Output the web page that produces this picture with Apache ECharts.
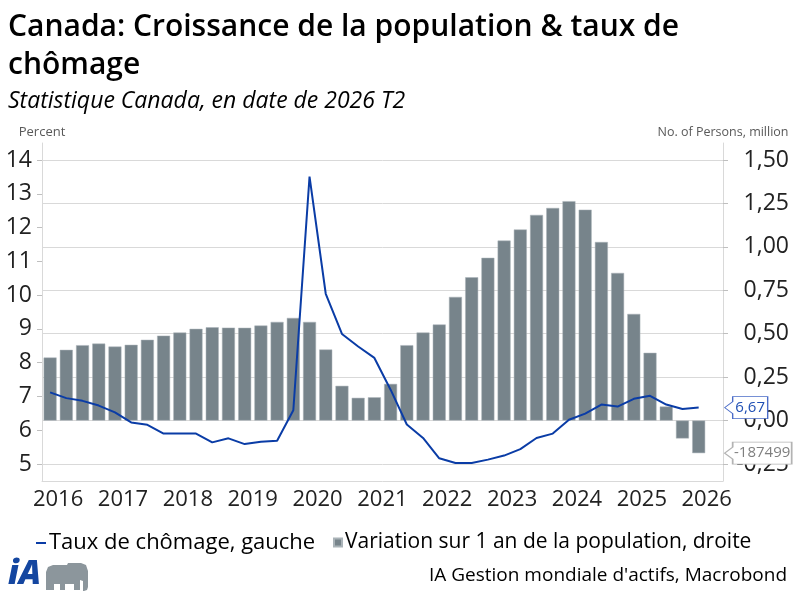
<!DOCTYPE html>
<html>
<head>
<meta charset="utf-8">
<script src="https://cdn.jsdelivr.net/npm/echarts@6.0.0/dist/echarts.min.js"></script>
<style>
  html, body { margin: 0; padding: 0; background: #fff; }
  #chart { width: 800px; height: 600px; }
</style>
</head>
<body>
<div id="chart"></div>
<script>
// trimestres, 2016 T2 -> 2026 T3 (le dernier est vide)
var quarters = [
  '2016 T2','2016 T3','2016 T4',
  '2017 T1','2017 T2','2017 T3','2017 T4',
  '2018 T1','2018 T2','2018 T3','2018 T4',
  '2019 T1','2019 T2','2019 T3','2019 T4',
  '2020 T1','2020 T2','2020 T3','2020 T4',
  '2021 T1','2021 T2','2021 T3','2021 T4',
  '2022 T1','2022 T2','2022 T3','2022 T4',
  '2023 T1','2023 T2','2023 T3','2023 T4',
  '2024 T1','2024 T2','2024 T3','2024 T4',
  '2025 T1','2025 T2','2025 T3','2025 T4',
  '2026 T1','2026 T2','2026 T3'
];
// variation sur 1 an de la population (millions), axe droit
var popChange = [
  0.363, 0.407, 0.434, 0.443, 0.426, 0.436, 0.465, 0.489, 0.507, 0.528,
  0.537, 0.535, 0.534, 0.547, 0.568, 0.591, 0.568, 0.409, 0.200, 0.131,
  0.134, 0.211, 0.434, 0.507, 0.553, 0.712, 0.825, 0.937, 1.036, 1.100,
  1.184, 1.224, 1.263, 1.214, 1.028, 0.850, 0.614, 0.390, 0.081, -0.103,
  -0.187499
];
// taux de chômage (%), axe gauche
var unemployment = [
  7.12, 6.95, 6.87, 6.73, 6.53, 6.23, 6.16, 5.90, 5.90, 5.90,
  5.64, 5.76, 5.59, 5.66, 5.69, 6.59, 13.51, 10.04, 8.85, 8.48,
  8.14, 7.20, 6.17, 5.77, 5.17, 5.03, 5.03, 5.13, 5.25, 5.44,
  5.77, 5.90, 6.31, 6.49, 6.76, 6.70, 6.93, 7.02, 6.76, 6.63,
  6.67
];

var FONT = '"Open Sans", "Noto Sans", sans-serif';
var lastIdx = popChange.length - 1;

function comma(v, d) {
  return v.toFixed(d).replace('.', ',');
}

var myChart = echarts.init(document.getElementById('chart'));
myChart.setOption({
  animation: false,
  textStyle: { fontFamily: FONT },
  title: [
    {
      text: 'Canada: Croissance de la population & taux de\nchômage',
      left: 8, top: 8, padding: 0,
      textStyle: { fontSize: 30, fontWeight: 600, lineHeight: 38, color: '#000', fontFamily: FONT }
    },
    {
      text: 'Statistique Canada, en date de 2026 T2',
      left: 8, top: 88, padding: 0,
      textStyle: { fontSize: 23, fontWeight: 'normal', fontStyle: 'italic', lineHeight: 26, color: '#000', fontFamily: FONT }
    }
  ],
  legend: [
    {
      data: ['Taux de chômage, gauche'],
      left: 36, top: 532, padding: 0,
      icon: 'rect', itemWidth: 10, itemHeight: 2,
      textStyle: { fontSize: 22, color: '#000', padding: [0, 0, 0, -2] }
    },
    {
      data: ['Variation sur 1 an de la population, droite'],
      left: 333, top: 532, padding: 0,
      icon: 'rect', itemWidth: 8, itemHeight: 8,
      textStyle: { fontSize: 21, color: '#000', padding: [0, 0, 0, -2] }
    }
  ],
  graphic: [
    {
      type: 'text', right: 13, top: 566,
      style: { text: "IA Gestion mondiale d'actifs, Macrobond", fill: '#000', font: '19px ' + FONT }
    },
    {
      type: 'text', left: 8, top: 558,
      style: { text: 'iA', fill: '#1446a0', font: 'italic 800 33px ' + FONT }
    },
    {
      // éléphant du logo
      type: 'polygon', left: 46, top: 563,
      shape: {
        points: [[0, 27], [0, 9], [2, 4], [7, 2], [21, 2], [22, 0], [35, 0], [40, 2], [42, 8],
                 [42, 24], [41, 27], [38, 28], [37, 28], [37, 18], [34, 17], [34, 27], [28, 27],
                 [28, 21], [19, 21], [19, 27], [14, 27], [14, 21], [8, 21], [8, 27]]
      },
      style: { fill: '#8c969c' }
    }
  ],
  grid: [
    // cadre extérieur : lignes d'axes
    { left: 42, right: 77, top: 143, bottom: 119 },
    // zone des données
    { left: 42, right: 77, top: 160, bottom: 136 }
  ],
  xAxis: [
    {
      gridIndex: 0,
      type: 'category',
      data: quarters,
      boundaryGap: true,
      axisLine: { lineStyle: { color: '#d9d9d9' } },
      axisTick: {
        length: 5,
        interval: function (i, v) { return v.slice(5) === 'T1'; },
        lineStyle: { color: '#bfbfbf' }
      },
      axisLabel: {
        fontSize: 22, color: '#222', margin: 8,
        padding: [0, 0, 0, 16],
        interval: function (i, v) { return v.slice(5) === 'T2'; },
        formatter: function (v) { return v.slice(0, 4); }
      },
      splitLine: { show: false }
    },
    {
      gridIndex: 1,
      type: 'category',
      data: quarters,
      boundaryGap: true,
      show: false
    }
  ],
  yAxis: [
    {
      gridIndex: 1,
      type: 'value',
      position: 'left',
      min: 5, max: 14, interval: 1,
      axisLine: { show: false },
      axisTick: { show: true, length: 5, lineStyle: { color: '#bfbfbf' } },
      axisLabel: { fontSize: 23, color: '#222', margin: 10 },
      splitLine: { show: false }
    },
    {
      gridIndex: 1,
      type: 'value',
      position: 'right',
      min: -0.25, max: 1.5, interval: 0.25,
      axisLine: { show: false },
      axisTick: { show: true, length: 5, lineStyle: { color: '#bfbfbf' } },
      axisLabel: {
        fontSize: 23, color: '#222', margin: 66, align: 'right',
        formatter: function (v) { return comma(v, 2); }
      },
      splitLine: { show: true, lineStyle: { color: '#d9d9d9', width: 1 } }
    },
    {
      gridIndex: 0, type: 'value', position: 'left', min: 0, max: 1,
      name: 'Percent', nameLocation: 'end', nameGap: 4,
      nameTextStyle: { fontSize: 13, color: '#595959' },
      axisLine: { show: true, lineStyle: { color: '#d9d9d9' } },
      axisTick: { show: false }, axisLabel: { show: false }, splitLine: { show: false }
    },
    {
      gridIndex: 0, type: 'value', position: 'right', min: 0, max: 1,
      name: 'No. of Persons, million', nameLocation: 'end', nameGap: 4,
      nameTextStyle: { fontSize: 12.5, color: '#595959' },
      axisLine: { show: true, lineStyle: { color: '#d9d9d9' } },
      axisTick: { show: false }, axisLabel: { show: false }, splitLine: { show: false }
    }
  ],
  series: [
    {
      name: 'Variation sur 1 an de la population, droite',
      type: 'bar',
      xAxisIndex: 1, yAxisIndex: 1,
      data: popChange,
      barCategoryGap: '20%',
      itemStyle: { color: '#77848b', borderColor: '#aab3b8', borderWidth: 0.5 },
      markPoint: {
        symbol: 'path://M0,11 L8,5 L8,0 L67,0 L67,22 L8,22 L8,17 Z',
        symbolSize: [67, 22],
        symbolKeepAspect: false,
        symbolOffset: [59.5, 0],
        itemStyle: { color: '#fff', borderColor: '#b3b3b3', borderWidth: 1 },
        label: {
          show: true, position: 'inside', offset: [4, 0],
          color: '#7f7f7f', fontSize: 15,
          formatter: function (p) { return String(Math.round(p.value * 1e6)); }
        },
        data: [{ coord: [quarters[lastIdx], popChange[lastIdx]], value: popChange[lastIdx] }]
      }
    },
    {
      name: 'Taux de chômage, gauche',
      type: 'line',
      xAxisIndex: 1, yAxisIndex: 0,
      data: unemployment,
      showSymbol: false,
      symbol: 'none',
      lineStyle: { color: '#0a3ca6', width: 2 },
      itemStyle: { color: '#0a3ca6' },
      markPoint: {
        symbol: 'path://M0,11 L8,5 L8,0 L43,0 L43,22 L8,22 L8,17 Z',
        symbolSize: [43, 22],
        symbolKeepAspect: false,
        symbolOffset: [47.5, 0],
        itemStyle: { color: '#fff', borderColor: '#4a6cc8', borderWidth: 1 },
        label: {
          show: true, position: 'inside', offset: [4, 0],
          color: '#1f4fb4', fontSize: 15,
          formatter: function (p) { return comma(p.value, 2); }
        },
        data: [{ coord: [quarters[lastIdx], unemployment[lastIdx]], value: unemployment[lastIdx] }]
      }
    }
  ]
});
</script>
</body>
</html>
